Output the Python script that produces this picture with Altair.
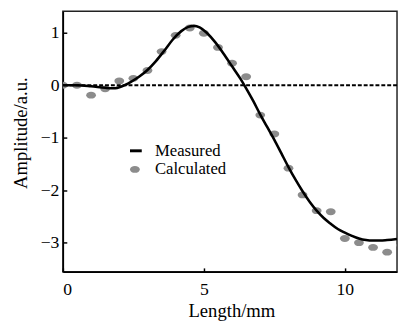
import altair as alt
import pandas as pd

# Measured curve (solid line)
line_x = [0, 0.5, 1.0, 1.5, 1.8, 2.1, 2.4, 2.7, 3.0, 3.3, 3.6, 3.9, 4.2, 4.45, 4.65, 4.85,
          5.1, 5.4, 5.7, 6.0, 6.3, 6.5, 6.75, 7.0, 7.25, 7.5, 7.75, 8.0, 8.25, 8.5, 8.75,
          9.0, 9.25, 9.5, 9.75, 10.0, 10.25, 10.5, 10.75, 11.0, 11.25, 11.5, 11.85]
line_y = [0.0, 0.0, -0.02, -0.05, -0.06, -0.02, 0.06, 0.16, 0.29, 0.46, 0.66, 0.87, 1.03, 1.11, 1.13, 1.1,
          1.0, 0.82, 0.6, 0.36, 0.12, -0.06, -0.3, -0.56, -0.8, -1.04, -1.3, -1.56, -1.8, -2.02, -2.22,
          -2.39, -2.53, -2.64, -2.74, -2.81, -2.87, -2.92, -2.95, -2.96, -2.96, -2.95, -2.93]

# Calculated points (grey dots)
pt_x = [0.0, 0.5, 1.0, 1.5, 2.0, 2.5, 3.0, 3.5, 4.0, 4.5, 5.0, 5.5, 6.0, 6.5, 7.0, 7.5,
        8.0, 8.5, 9.0, 9.5, 10.0, 10.5, 11.0, 11.5, 12.0]
pt_y = [0.0, 0.0, -0.19, -0.07, 0.08, 0.13, 0.28, 0.64, 0.95, 1.09, 0.99, 0.72, 0.42, 0.16, -0.57, -0.93,
        -1.58, -2.09, -2.39, -2.41, -2.92, -3.0, -3.09, -3.18, -3.05]

x_ticks = [0, 5, 10]
y_ticks = [-3, -2, -1, 0, 1]

FONT = "Liberation Serif"

line_df = pd.DataFrame({"x": line_x, "y": line_y, "kind": "Measured"})
pt_df = pd.DataFrame({"x": pt_x, "y": pt_y, "kind": "Calculated"})
zero_df = pd.DataFrame({"y": [0]})

xscale = alt.Scale(domain=[0, 11.85], nice=False, zero=False)
yscale = alt.Scale(domain=[-3.555, 1.41], nice=False, zero=False)

xaxis = alt.Axis(values=x_ticks, title="Length/mm", format="d", grid=False, ticks=False,
                 labelPadding=9, titleY=46, titleX=172, titleBaseline="alphabetic", titleFontSize=19)
yaxis = alt.Axis(values=y_ticks, title="Amplitude/a.u.", format="d", grid=False, ticks=False,
                 labelPadding=4, titleX=-37, titleY=124, titleBaseline="alphabetic",
                 titleAngle=-90, titleFontSize=19)

# tick-only axes pulled inside the frame (inward ticks)
xtick_axis = alt.Axis(values=x_ticks, labels=False, domain=False, title=None, grid=False,
                      tickSize=4, offset=-4, orient="bottom")
ytick_axis = alt.Axis(values=y_ticks, labels=False, domain=False, title=None, grid=False,
                      tickSize=4, offset=-4, orient="left")

ellipse = "M -1 0 A 1 0.7 0 1 1 1 0 A 1 0.7 0 1 1 -1 0 Z"

points = alt.Chart(pt_df).mark_point(filled=True, color="#8c8c8c", opacity=1, size=100, clip=True).encode(
    x=alt.X("x:Q", scale=xscale, axis=xaxis),
    y=alt.Y("y:Q", scale=yscale, axis=yaxis),
    shape=alt.Shape("kind:N", scale=alt.Scale(domain=["Calculated"], range=[ellipse]),
                    legend=alt.Legend(title=None, orient="none", legendX=65, legendY=153,
                                      padding=0, labelOffset=12, symbolSize=100,
                                      symbolFillColor="#8c8c8c", symbolStrokeWidth=0,
                                      labelFont=FONT, labelFontSize=17, labelColor="black")),
)

zero = alt.Chart(zero_df).mark_rule(strokeDash=[4, 2], strokeWidth=2, color="black").encode(
    y=alt.Y("y:Q", scale=yscale)
)

line = alt.Chart(line_df).mark_line(strokeWidth=2.6, clip=True, interpolate="monotone").encode(
    x=alt.X("x:Q", scale=xscale),
    y=alt.Y("y:Q", scale=yscale),
    color=alt.Color("kind:N", scale=alt.Scale(domain=["Measured"], range=["black"]),
                    legend=alt.Legend(title=None, orient="none", legendX=66, legendY=134,
                                      padding=0, labelOffset=11, symbolType="stroke",
                                      symbolSize=144, symbolStrokeWidth=3,
                                      labelFont=FONT, labelFontSize=17, labelColor="black")),
)

base = alt.layer(points, zero, line)

ticks_layer = alt.Chart(pt_df).mark_point(opacity=0).encode(
    x=alt.X("x:Q", scale=xscale, axis=xtick_axis),
    y=alt.Y("y:Q", scale=yscale, axis=ytick_axis),
)

chart = alt.layer(base, ticks_layer).resolve_scale(
    x="independent", y="independent"
).resolve_axis(
    x="independent", y="independent"
).properties(
    width=341, height=266,
    padding={"left": 56, "top": 0, "right": 1, "bottom": 50},
    autosize=alt.AutoSizeParams(type="none"),
).configure_view(
    stroke="#222222", strokeWidth=1.5
).configure_axis(
    labelFont=FONT, labelFontSize=18, labelColor="black",
    titleFont=FONT, titleFontSize=19, titleColor="black", titleFontWeight="normal",
    domainColor="black", domainWidth=1.5, tickColor="black", tickWidth=1.5,
)

chart.save("out.html", embed_options={"renderer": "svg", "actions": False})
